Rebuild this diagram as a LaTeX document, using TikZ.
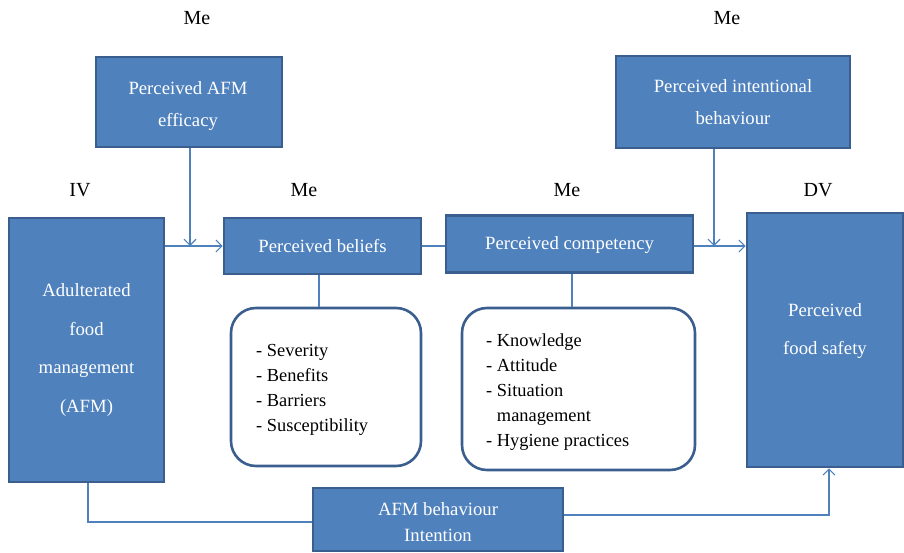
\documentclass[tikz,border=0pt]{standalone}
\usepackage{fontspec}
\setmainfont{Liberation Serif}
\usetikzlibrary{arrows.meta}
\definecolor{boxfill}{HTML}{4F81BD}
\definecolor{boxedge}{HTML}{3A5F8E}
\definecolor{lineblue}{HTML}{4F81BD}
\begin{document}
\begin{tikzpicture}[x=1pt,y=-1pt,
 bluebox/.style={draw=boxedge, fill=boxfill, line width=2.6pt, text=white, align=center, inner sep=0pt, font=\fontsize{18.7}{32}\selectfont},
 boxtext/.style={text=white, align=center, inner sep=0pt, font=\fontsize{18.7}{38}\selectfont},
 listbox/.style={draw=boxedge, fill=white, line width=2.6pt, rounded corners=25pt, inner sep=0pt},
 listtext/.style={align=left, inner sep=0pt, anchor=west, font=\fontsize{18.4}{25}\selectfont},
 conn/.style={draw=lineblue, line width=1.1pt},
 arr/.style={conn, -{Straight Barb[length=6pt,width=12pt,line width=1.1pt]}},
 lab/.style={font=\fontsize{20}{24}\selectfont, inner sep=0pt}]
\useasboundingbox (0,0) rectangle (904,553);

% labels
\node[lab] (me1) at (197,18) {Me};
\node[lab] (me2) at (727,18) {Me};
\node[lab] (ivl) at (80,190) {IV};
\node[lab] (me3) at (304,190) {Me};
\node[lab] (me4) at (567,190) {Me};
\node[lab] (dvl) at (818,190) {DV};

% boxes
\node[bluebox, minimum width=186pt, minimum height=90pt] (eff) at (189,102) {};
\node[boxtext, font=\fontsize{18.7}{32}\selectfont] (efft) at (188,106) {Perceived AFM\\efficacy};
\node[bluebox, minimum width=234pt, minimum height=92pt] (intb) at (733,102) {Perceived intentional\\behaviour};
\node[bluebox, minimum width=155pt, minimum height=264pt, font=\fontsize{18.7}{38.5}\selectfont] (iv) at (86.5,350) {Adulterated\\food\\management\\(AFM)};
\node[bluebox, minimum width=197pt, minimum height=56pt] (bel) at (322.5,246) {Perceived beliefs};
\node[bluebox, minimum width=247pt, minimum height=57pt] (comp) at (569.5,244) {};
\node[boxtext] (compt) at (569.5,245.5) {Perceived competency};
\node[bluebox, minimum width=156pt, minimum height=254pt] (dv) at (825,340) {};
\node[boxtext] (dvt) at (825,331) {Perceived\\food safety};
\node[bluebox, minimum width=250pt, minimum height=63pt] (afi) at (438,519.5) {};
\node[boxtext, font=\fontsize{18.7}{26}\selectfont] (afit) at (438,522.5) {AFM behaviour\\Intention};

% list boxes
\node[listbox, minimum width=190pt, minimum height=158pt] (bl) at (326,387) {};
\node[listtext] (blt) at (256,390) {- Severity\\- Benefits\\- Barriers\\- Susceptibility};
\node[listbox, minimum width=233pt, minimum height=162pt] (cl) at (578.5,389) {};
\node[listtext] (clt) at (486,392) {- Knowledge\\- Attitude\\- Situation\\\phantom{- }management\\- Hygiene practices};

% helper coordinates
\coordinate (ce) at ([yshift=-2pt]comp.east);
\coordinate (effs) at ([xshift=1pt]eff.south);
\coordinate (ibs) at ([xshift=-19pt]intb.south);
\coordinate (bels) at ([xshift=-3.5pt]bel.south);
\coordinate (comps) at ([xshift=2.5pt]comp.south);
\coordinate (ivs) at ([xshift=1.5pt]iv.south);
\coordinate (afiw) at ([yshift=-2.5pt]afi.west);
\coordinate (afie) at ([yshift=4.5pt]afi.east);
\coordinate (dvs) at ([xshift=4pt]dv.south);

% connectors
\draw[arr] (iv.east |- bel.west) -- (bel.west);
\draw[arr] (effs) -- (effs |- bel.west);
\draw[conn] (bel.east) -- (comp.west |- bel.east);
\draw[conn] (bels) -- (bels |- bl.north);
\draw[conn] (comps) -- (comps |- cl.north);
\draw[arr] (ce) -- (dv.west |- ce);
\draw[arr] (ibs) -- (ibs |- ce);
\draw[conn] (ivs) |- (afiw);
\draw[arr] (afie) -| (dvs);
\end{tikzpicture}
\end{document}
